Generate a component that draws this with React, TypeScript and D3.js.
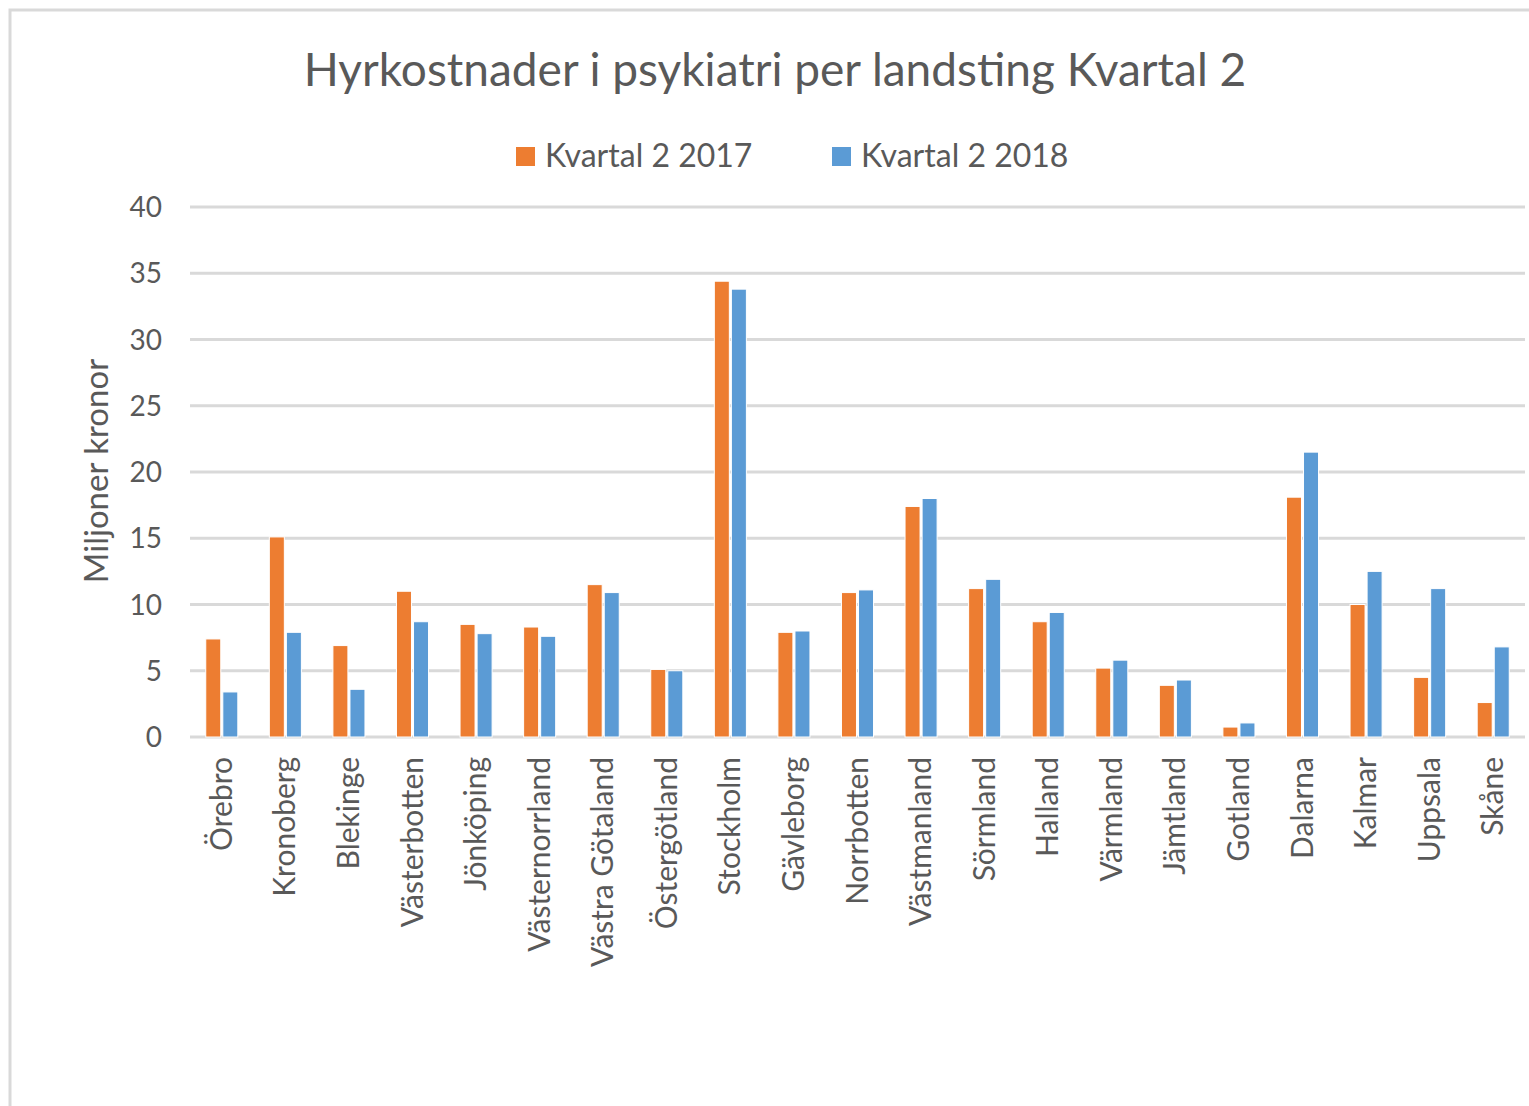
import React from "react";
import * as d3 from "d3";

const categories = ["Örebro","Kronoberg","Blekinge","Västerbotten","Jönköping","Västernorrland","Västra Götaland","Östergötland","Stockholm","Gävleborg","Norrbotten","Västmanland","Sörmland","Halland","Värmland","Jämtland","Gotland","Dalarna","Kalmar","Uppsala","Skåne"];
const values2017 = [7.4,15.1,6.9,11.0,8.5,8.3,11.5,5.1,34.4,7.9,10.9,17.4,11.2,8.7,5.2,3.9,0.75,18.1,10.0,4.5,2.6];
const values2018 = [3.4,7.9,3.6,8.7,7.8,7.6,10.9,5.0,33.8,8.0,11.1,18.0,11.9,9.4,5.8,4.3,1.06,21.5,12.5,11.2,6.8];
const seriesNames = ["Kvartal 2 2017","Kvartal 2 2018"];
const seriesColors = ["#ED7D31","#5B9BD5"];
const yTicks = [0,5,10,15,20,25,30,35,40];
const title = "Hyrkostnader i psykiatri per landsting Kvartal 2";
const yTitle = "Miljoner kronor";

const FONT = "Lato, 'Open Sans', sans-serif";
const TXT = "#595959";

export default function App() {
  const W = 1529, H = 1106;
  const left = 190, right = 1525, top = 207, bottom = 737;
  const x0 = d3.scaleBand<string>().domain(categories).range([left, right]).paddingInner(0).paddingOuter(0);
  const x1 = d3.scaleBand<number>().domain([0, 1]).range([0, x0.bandwidth()]).paddingInner(0.12).paddingOuter(0.924);
  const y = d3.scaleLinear().domain([0, 40]).range([bottom, top]);
  const series = [values2017, values2018];

  return (
    <svg width={W} height={H} style={{ position: "absolute", left: 0, top: 0 }}>
      <rect x={0} y={0} width={W} height={H} fill="#fff" />
      <rect x={10} y={10} width={W + 20} height={H + 20} fill="#fff" stroke="#d9d9d9" strokeWidth={3} />
      <text x={775} y={86} textAnchor="middle" fontFamily={FONT} fontSize={46} fill={TXT}>{title}</text>
      {/* legend */}
      {seriesNames.map((n, i) => {
        const lx = i === 0 ? 516 : 832;
        return (
          <g key={n}>
            <rect x={lx} y={147} width={19} height={19} fill={seriesColors[i]} />
            <text x={lx + 29} y={167} fontFamily={FONT} fontSize={32} fill={TXT}>{n}</text>
          </g>
        );
      })}
      {/* gridlines */}
      {yTicks.map((t) => (
        <g key={t}>
          <line x1={left} x2={right} y1={y(t)} y2={y(t)} stroke="#d9d9d9" strokeWidth={3} />
          <text x={162} y={y(t)} dy="0.36em" textAnchor="end" fontFamily={FONT} fontSize={28} fill={TXT}>{t}</text>
        </g>
      ))}
      {/* bars */}
      {categories.map((c, ci) => (
        <g key={c} transform={`translate(${x0(c)},0)`}>
          {series.map((s, si) => (
            <rect key={si} x={x1(si)} y={y(s[ci])} width={x1.bandwidth()} height={y(0) - y(s[ci])} fill={seriesColors[si]} stroke="#fff" strokeWidth={1} />
          ))}
        </g>
      ))}
      {/* category labels */}
      {categories.map((c) => {
        const cx = (x0(c) as number) + x0.bandwidth() / 2 + 10;
        return (
          <text key={c} transform={`translate(${cx},757) rotate(-90)`} textAnchor="end" fontFamily={FONT} fontSize={30} fill={TXT}>{c}</text>
        );
      })}
      <text transform={`translate(108,471) rotate(-90)`} textAnchor="middle" fontFamily={FONT} fontSize={33} fill={TXT}>{yTitle}</text>
    </svg>
  );
}
